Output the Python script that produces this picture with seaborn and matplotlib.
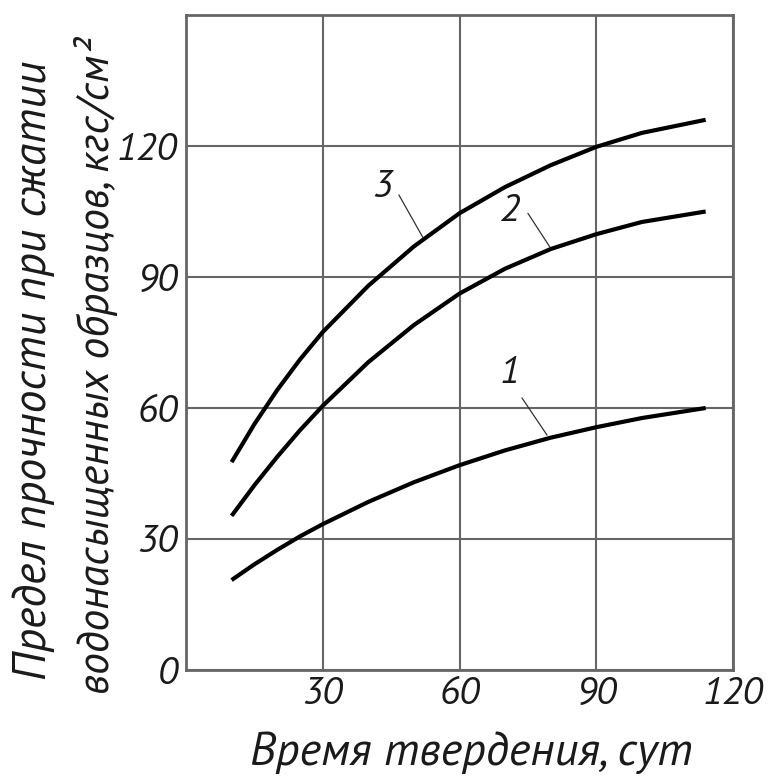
import matplotlib
matplotlib.use("Agg")
import matplotlib.pyplot as plt
import pandas as pd
import seaborn as sns

# Strength of water-saturated samples vs. curing time, three mixes
days = [10, 15, 20, 25, 30, 40, 50, 60, 70, 80, 90, 100, 114]
strength_1 = [20.6, 24.2, 27.5, 30.6, 33.4, 38.5, 43.0, 46.9, 50.3, 53.2, 55.6, 57.7, 60.0]
strength_2 = [35.3, 42.3, 48.8, 54.9, 60.5, 70.5, 79.0, 86.2, 91.9, 96.4, 99.8, 102.6, 105.0]
strength_3 = [47.6, 56.3, 64.1, 71.1, 77.4, 88.0, 97.0, 104.6, 110.6, 115.6, 119.8, 123.0, 126.0]
curve_names = ["1", "2", "3"]

x_ticks = [30, 60, 90, 120]
y_ticks = [0, 30, 60, 90, 120]
x_title = "Время твердения, сут"
y_title_1 = "Предел прочности при сжатии"
y_title_2 = "водонасыщенных образцов, кгс/см²"

df = pd.concat(
    [pd.DataFrame({"day": days, "strength": s, "curve": n})
     for n, s in zip(curve_names, [strength_1, strength_2, strength_3])],
    ignore_index=True,
)

sns.set_theme(style="white")
FONT = "PT Sans"
plt.rcParams["font.family"] = [FONT, "DejaVu Sans"]
plt.rcParams["font.style"] = "italic"

GRID = "#666666"
W, H = 771, 776
fig = plt.figure(figsize=(W / 100, H / 100), dpi=100)
ax = fig.add_axes([186 / W, 1 - 670 / H, (733 - 186) / W, (670 - 15) / H])

sns.lineplot(data=df, x="day", y="strength", units="curve", estimator=None,
             color="black", linewidth=3.0, ax=ax, legend=False,
             solid_capstyle="butt", solid_joinstyle="round")

ax.set_xlim(0, 120)
ax.set_ylim(0, 150)
ax.set_xticks(x_ticks)
ax.set_yticks(y_ticks)
ax.set_xticklabels([str(v) for v in x_ticks])
ax.set_yticklabels([str(v) for v in y_ticks])
ax.grid(True, color=GRID, linewidth=1.5)
ax.set_axisbelow(True)
for sp in ax.spines.values():
    sp.set_color(GRID)
    sp.set_linewidth(2.0)
ax.tick_params(axis="both", length=0, labelsize=28, labelcolor="#1a1a1a")
ax.tick_params(axis="x", pad=5)
ax.tick_params(axis="y", pad=6)
for lab in ax.get_xticklabels() + ax.get_yticklabels():
    lab.set_fontstyle("italic")
ax.set_xlabel("")
ax.set_ylabel("")

# curve numbers with thin leader lines
label_pos = {"1": (71.0, 68.0), "2": (71.0, 104.9), "3": (43.0, 110.6)}
leaders = {"1": ((73.7, 62.3), (79.2, 53.8)),
           "2": ((75.0, 104.6), (79.8, 96.9)),
           "3": ((46.7, 108.8), (52.0, 99.0))}
for name in curve_names:
    lx, ly = label_pos[name]
    ax.text(lx, ly, name, fontsize=28, style="italic", ha="center", va="center",
            color="#1a1a1a")
    (x0, y0), (x1, y1) = leaders[name]
    ax.plot([x0, x1], [y0, y1], color="#333333", linewidth=0.9)

fig.text(471 / W, 1 - 765 / H, x_title, fontsize=33.5, style="italic",
         ha="center", va="baseline", color="#1a1a1a")
fig.text(34 / W, 1 - 370 / H, y_title_1, fontsize=33, style="italic",
         rotation=90, ha="center", va="center", color="#1a1a1a")
fig.text(96 / W, 1 - 366 / H, y_title_2, fontsize=31.5, style="italic",
         rotation=90, ha="center", va="center", color="#1a1a1a")

fig.savefig("out.png", dpi=100)
